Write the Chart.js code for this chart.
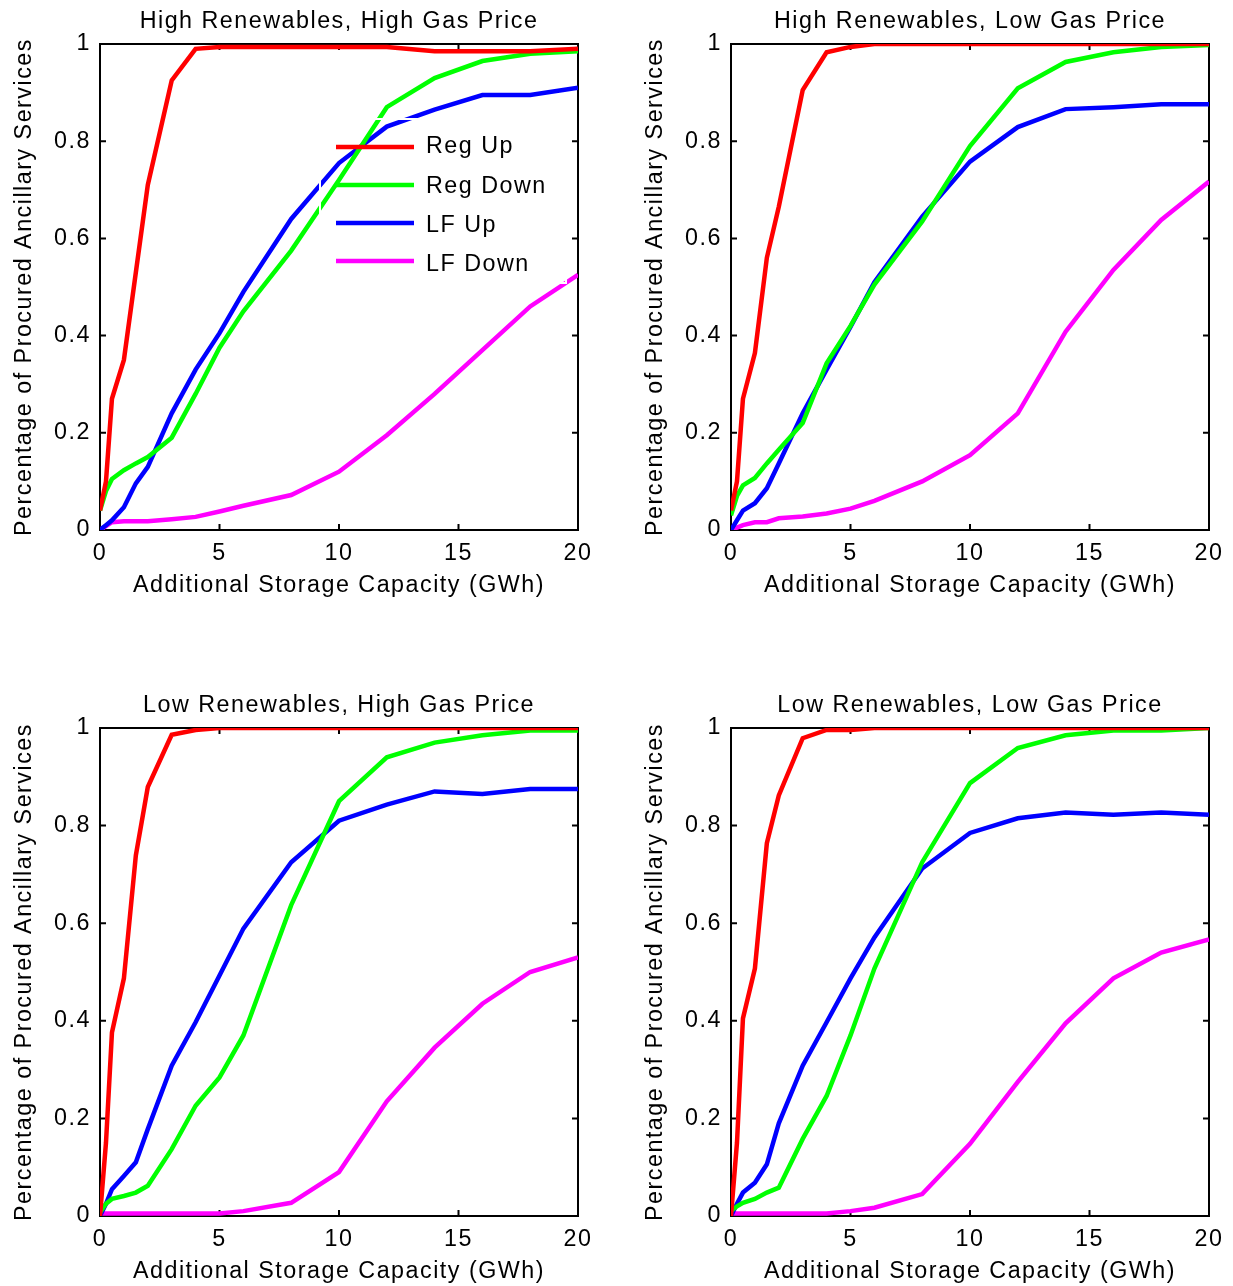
<!DOCTYPE html>
<html>
<head>
<meta charset="utf-8">
<title>Ancillary services vs. storage capacity</title>
<script src="https://cdn.jsdelivr.net/npm/chart.js@4.4.1/dist/chart.umd.min.js"></script>
<style>
    body { margin: 0; background: #fff; width: 1233px; height: 1286px; position: relative; overflow: hidden; }
    canvas { position: absolute; }
</style>
</head>
<body>
<canvas id="chartHighRenHighGas" width="616" height="643" style="left:0;top:0"></canvas>
<canvas id="chartHighRenLowGas" width="602" height="643" style="left:631px;top:0"></canvas>
<canvas id="chartLowRenHighGas" width="616" height="602" style="left:0;top:684px"></canvas>
<canvas id="chartLowRenLowGas" width="602" height="602" style="left:631px;top:684px"></canvas>
<script>
// Additional storage capacity (GWh) at which each scenario was solved
const capacity = [0, 0.25, 0.5, 1, 1.5, 2, 3, 4, 5, 6, 8, 10, 12, 14, 16, 18, 20];

const serviceNames = ['Reg Up', 'Reg Down', 'LF Up', 'LF Down'];
const xTicks = [0, 5, 10, 15, 20];
const yTicks = [0, 0.2, 0.4, 0.6, 0.8, 1];

// High renewables, high gas price
const hrhgRegUp   = [0.04, 0.10, 0.27, 0.35, 0.53, 0.71, 0.925, 0.99, 0.994, 0.994, 0.994, 0.994, 0.994, 0.985, 0.985, 0.985, 0.99];
const hrhgRegDown = [0.04, 0.08, 0.105, 0.123, 0.137, 0.15, 0.19, 0.28, 0.375, 0.45, 0.575, 0.72, 0.87, 0.93, 0.965, 0.98, 0.985];
const hrhgLfUp    = [0, 0.01, 0.02, 0.047, 0.096, 0.13, 0.24, 0.33, 0.405, 0.49, 0.64, 0.755, 0.83, 0.865, 0.895, 0.895, 0.91];
const hrhgLfDown  = [0, 0.008, 0.016, 0.018, 0.018, 0.018, 0.022, 0.027, 0.038, 0.05, 0.072, 0.12, 0.195, 0.28, 0.37, 0.46, 0.525];

// High renewables, low gas price
const hrlgRegUp   = [0.04, 0.10, 0.27, 0.364, 0.56, 0.665, 0.905, 0.983, 0.994, 1, 1, 1, 1, 1, 1, 1, 1];
const hrlgRegDown = [0.03, 0.07, 0.092, 0.107, 0.137, 0.165, 0.22, 0.343, 0.42, 0.505, 0.635, 0.79, 0.909, 0.963, 0.983, 0.994, 0.998];
const hrlgLfUp    = [0, 0.02, 0.04, 0.055, 0.086, 0.137, 0.24, 0.33, 0.418, 0.51, 0.645, 0.758, 0.829, 0.866, 0.87, 0.876, 0.876];
const hrlgLfDown  = [0, 0.005, 0.01, 0.016, 0.016, 0.024, 0.028, 0.034, 0.044, 0.06, 0.1, 0.154, 0.24, 0.408, 0.535, 0.638, 0.717];

// Low renewables, high gas price
const lrhgRegUp   = [0, 0.15, 0.376, 0.487, 0.739, 0.879, 0.986, 0.996, 1, 1, 1, 1, 1, 1, 1, 1, 1];
const lrhgRegDown = [0.007, 0.025, 0.035, 0.041, 0.048, 0.062, 0.137, 0.226, 0.284, 0.37, 0.637, 0.85, 0.94, 0.97, 0.985, 0.995, 0.995];
const lrhgLfUp    = [0, 0.025, 0.055, 0.082, 0.11, 0.178, 0.308, 0.397, 0.493, 0.589, 0.725, 0.81, 0.843, 0.87, 0.865, 0.875, 0.875];
const lrhgLfDown  = [0.005, 0.005, 0.005, 0.005, 0.005, 0.005, 0.005, 0.005, 0.005, 0.01, 0.027, 0.09, 0.235, 0.345, 0.435, 0.5, 0.53];

// Low renewables, low gas price
const lrlgRegUp   = [0, 0.15, 0.405, 0.507, 0.764, 0.862, 0.979, 0.996, 0.996, 1, 1, 1, 1, 1, 1, 1, 1];
const lrlgRegDown = [0.01, 0.02, 0.027, 0.035, 0.048, 0.058, 0.158, 0.246, 0.37, 0.507, 0.725, 0.887, 0.959, 0.985, 0.995, 0.995, 1];
const lrlgLfUp    = [0, 0.025, 0.048, 0.068, 0.106, 0.19, 0.308, 0.397, 0.487, 0.571, 0.712, 0.785, 0.815, 0.827, 0.822, 0.827, 0.822];
const lrlgLfDown  = [0.005, 0.005, 0.005, 0.005, 0.005, 0.005, 0.005, 0.005, 0.01, 0.017, 0.045, 0.148, 0.275, 0.395, 0.487, 0.54, 0.567];

const lineColors = ['#ff0000', '#00ff00', '#0000ff', '#ff00ff'];
const fontFamily = '"Liberation Sans", Arial, Helvetica, sans-serif';
const fontSize = 23.3;

Chart.defaults.font.family = fontFamily;
Chart.defaults.font.size = fontSize;
Chart.defaults.color = '#000';

// Box frame with inward ticks, subplot title and the in-axes legend
const matlabFrame = {
    id: 'matlabFrame',
    beforeDraw(chart) {
        chart.ctx.letterSpacing = '1.5px';
    },
    beforeDatasetsDraw(chart) {
        const { ctx, chartArea: a, scales: { x, y } } = chart;
        ctx.save();
        ctx.strokeStyle = '#000';
        ctx.lineWidth = 2;
        ctx.strokeRect(a.left, a.top, a.right - a.left, a.bottom - a.top);
        ctx.beginPath();
        x.ticks.forEach(t => {
            const px = x.getPixelForValue(t.value);
            ctx.moveTo(px, a.bottom); ctx.lineTo(px, a.bottom - 6);
            ctx.moveTo(px, a.top); ctx.lineTo(px, a.top + 6);
        });
        y.ticks.forEach(t => {
            const py = y.getPixelForValue(t.value);
            ctx.moveTo(a.left, py); ctx.lineTo(a.left + 6, py);
            ctx.moveTo(a.right, py); ctx.lineTo(a.right - 6, py);
        });
        ctx.stroke();
        ctx.restore();
    },
    afterDatasetsDraw(chart, args, opts) {
        if (!opts.legend) return;
        const { ctx, chartArea: a } = chart;
        ctx.save();
        // legend box edge is white, so it only shows where it cuts the curves
        ctx.strokeStyle = '#fff';
        ctx.lineWidth = 2;
        ctx.strokeRect(a.left + 220, a.top + 75, a.right - 12 - (a.left + 220), 164);
        ctx.font = `${fontSize}px ${fontFamily}`;
        ctx.textBaseline = 'middle';
        ctx.textAlign = 'left';
        ctx.fillStyle = '#000';
        chart.data.datasets.forEach((ds, i) => {
            const lineY = a.top + 103 + i * 38;
            ctx.strokeStyle = ds.borderColor;
            ctx.lineWidth = 4.5;
            ctx.beginPath();
            ctx.moveTo(a.left + 236, lineY);
            ctx.lineTo(a.left + 314, lineY);
            ctx.stroke();
            ctx.fillText(ds.label, a.left + 326, a.top + 103 + i * 39.3);
        });
        ctx.restore();
    },
    afterDraw(chart, args, opts) {
        const { ctx, chartArea: a } = chart;
        ctx.save();
        ctx.font = `${fontSize}px ${fontFamily}`;
        ctx.fillStyle = '#000';
        ctx.textAlign = 'center';
        ctx.textBaseline = 'alphabetic';
        ctx.fillText(opts.title, (a.left + a.right) / 2, a.top - 16);
        ctx.restore();
    }
};

function makeChart(canvasId, title, seriesList, padding, showLegend) {
    const ctx = document.getElementById(canvasId).getContext('2d');
    return new Chart(ctx, {
        type: 'line',
        data: {
            datasets: seriesList.map((values, i) => ({
                label: serviceNames[i],
                data: capacity.map((c, k) => ({ x: c, y: values[k] })),
                borderColor: lineColors[i],
                borderWidth: 4.5,
                pointRadius: 0,
                tension: 0,
                fill: false
            }))
        },
        options: {
            responsive: false,
            animation: false,
            events: [],
            layout: { padding },
            plugins: {
                legend: { display: false },
                tooltip: { enabled: false },
                matlabFrame: { title, legend: showLegend }
            },
            scales: {
                x: {
                    type: 'linear',
                    min: 0,
                    max: 20,
                    afterBuildTicks: s => { s.ticks = xTicks.map(v => ({ value: v })); },
                    afterFit: s => { s.height = 70; },
                    grid: { display: false, drawTicks: false },
                    border: { display: false },
                    ticks: { padding: 10, maxRotation: 0 },
                    title: {
                        display: true,
                        text: 'Additional Storage Capacity (GWh)',
                        padding: { top: 0, bottom: 0 }
                    }
                },
                y: {
                    type: 'linear',
                    min: 0,
                    max: 1,
                    afterBuildTicks: s => { s.ticks = yTicks.map(v => ({ value: v })); },
                    afterFit: s => { s.width = 100; },
                    grid: { display: false, drawTicks: false },
                    border: { display: false },
                    ticks: { padding: 9, callback: v => String(Number(v.toFixed(1))) },
                    title: {
                        display: true,
                        text: 'Percentage of Procured Ancillary Services',
                        padding: { top: 11, bottom: 0 }
                    }
                }
            }
        },
        plugins: [matlabFrame]
    });
}

makeChart('chartHighRenHighGas', 'High Renewables, High Gas Price',
    [hrhgRegUp, hrhgRegDown, hrhgLfUp, hrhgLfDown],
    { top: 44, bottom: 43, left: 0, right: 38 }, true);
makeChart('chartHighRenLowGas', 'High Renewables, Low Gas Price',
    [hrlgRegUp, hrlgRegDown, hrlgLfUp, hrlgLfDown],
    { top: 44, bottom: 43, left: 0, right: 24 }, false);
makeChart('chartLowRenHighGas', 'Low Renewables, High Gas Price',
    [lrhgRegUp, lrhgRegDown, lrhgLfUp, lrhgLfDown],
    { top: 44, bottom: 0, left: 0, right: 38 }, false);
makeChart('chartLowRenLowGas', 'Low Renewables, Low Gas Price',
    [lrlgRegUp, lrlgRegDown, lrlgLfUp, lrlgLfDown],
    { top: 44, bottom: 0, left: 0, right: 24 }, false);
</script>
</body>
</html>
